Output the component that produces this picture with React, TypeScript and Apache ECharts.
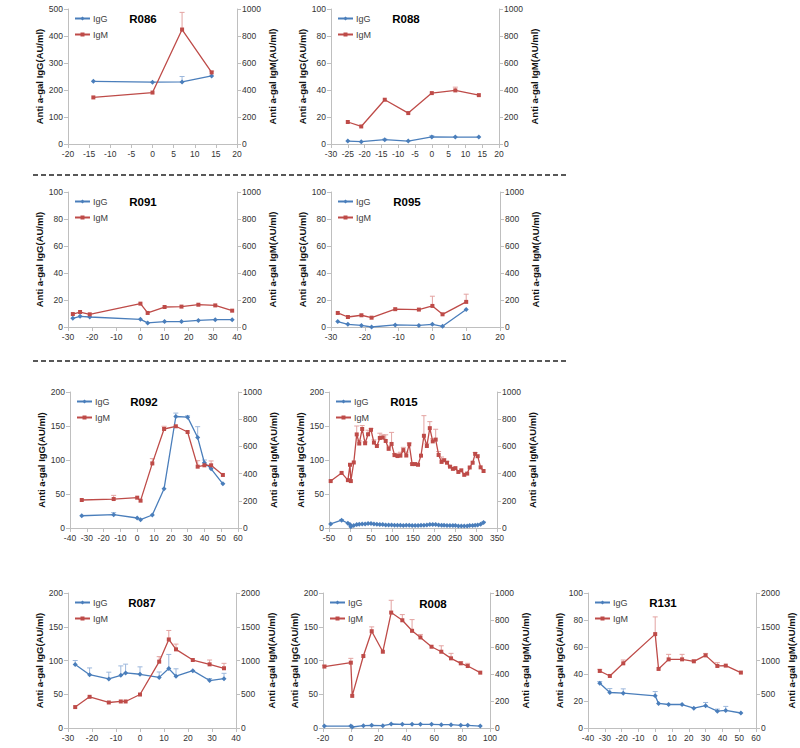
import React, { useEffect, useRef } from "react";
import * as echarts from "echarts";

// ---------- data (days relative to event, antibody levels AU/ml) ----------
const r086Days = [-14, 0, 7, 14];
const r086IgG = [232, 229, 230, 252];
const r086IgGErr = [0, 0, 20, 0];
const r086IgM = [345, 381, 848, 530];
const r086IgMErr = [0, 0, 127, 10];

const r088Days = [-25, -21, -14, -7, 0, 7, 14];
const r088IgG = [2.2, 1.7, 3.2, 2.2, 5.2, 5.1, 5.1];
const r088IgGErr = [0, 0, 0.5, 0, 1, 0, 0];
const r088IgM = [163, 130, 328, 229, 377, 397, 362];
const r088IgMErr = [0, 0, 0, 0, 0, 24, 0];

const r091Days = [-28, -25, -21, 0, 3, 10, 17, 24, 31, 38];
const r091IgG = [6.4, 7.9, 7.4, 5.7, 3.0, 4.0, 4.0, 4.9, 5.4, 5.4];
const r091IgGErr = [0, 0, 0, 0, 0, 0, 0, 0, 0, 0];
const r091IgM = [96, 111, 94, 173, 104, 148, 151, 165, 160, 121];
const r091IgMErr = [0, 0, 0, 0, 0, 0, 0, 0, 0, 0];

const r095Days = [-28, -25, -21, -18, -11, -4, 0, 3, 10];
const r095IgG = [4.0, 2.0, 1.2, 0, 1.5, 1.2, 2.0, 0.5, 12.9];
const r095IgGErr = [0, 0, 0, 0, 0, 0, 0, 0, 0];
const r095IgM = [104, 74, 87, 69, 132, 129, 156, 94, 186];
const r095IgMErr = [0, 0, 0, 0, 0, 0, 72, 0, 57];

const r092Days = [-33, -14, 0, 2, 9, 16, 23, 30, 36, 40, 44, 51];
const r092IgG = [18, 19.6, 14.7, 12.3, 19.1, 57.8, 164, 163, 133, 96, 87, 65];
const r092IgGErr = [0, 3, 0, 0, 0, 0, 5, 2, 16, 4, 0, 0];
const r092IgM = [206, 213, 223, 201, 475, 728, 748, 706, 451, 461, 461, 390];
const r092IgMErr = [0, 27, 0, 0, 35, 20, 0, 0, 44, 0, 32, 0];

const r015Days = [-46, -20, -5, 0, 2, 9, 16, 22, 29, 36, 43, 50, 57, 64, 71, 78, 85, 92, 99, 106, 113, 120, 127, 134, 141, 148, 155, 162, 169, 176, 183, 190, 197, 204, 211, 218, 224, 231, 238, 245, 251, 258, 265, 272, 279, 285, 292, 298, 304, 311, 318];
const r015IgG = [6, 11.5, 7, 5, 2, 3.5, 5, 5.5, 6, 6, 6.5, 6.5, 6, 5.5, 5, 5, 4.5, 4.5, 4.5, 4, 4, 4, 3.5, 4, 4, 3.5, 3.5, 3.5, 4, 4, 4.5, 5, 5, 5, 4.5, 4, 4, 3.5, 3.5, 3.5, 3.5, 3, 3, 3, 3, 3.5, 3.5, 4, 4.5, 5.5, 8];
const r015IgGErr = [0, 1, 0, 0, 0, 0, 0, 0, 0, 0, 0, 0, 0, 0, 0, 0, 0, 0, 0, 0, 0, 0, 0, 0, 0, 0, 0, 0, 0, 0, 0, 0, 0, 0, 0, 0, 0, 0, 0, 0, 0, 0, 0, 0, 0, 0, 0, 0, 0, 0, 1];
const r015IgM = [345, 405, 352, 465, 345, 482, 688, 621, 728, 623, 689, 722, 628, 603, 662, 665, 640, 582, 618, 536, 529, 532, 573, 533, 615, 470, 470, 465, 532, 678, 603, 734, 637, 650, 537, 486, 498, 480, 451, 435, 440, 412, 424, 391, 400, 445, 480, 545, 528, 446, 419];
const r015IgMErr = [0, 0, 0, 0, 0, 0, 62, 20, 25, 10, 30, 10, 20, 10, 35, 20, 45, 20, 85, 10, 20, 25, 20, 25, 10, 5, 0, 0, 0, 148, 20, 48, 20, 76, 25, 36, 10, 10, 5, 0, 0, 0, 0, 0, 0, 0, 0, 10, 0, 0, 0];

const r087Days = [-27, -21, -13, -8, -6, 0, 8, 12, 15, 22, 29, 35];
const r087IgG = [94, 79, 72.7, 78, 81.6, 79.6, 75, 88, 76.7, 85, 70.3, 73];
const r087IgGErr = [6, 10, 10, 14, 13, 11, 8, 21, 11, 0, 3, 8];
const r087IgM = [310, 462, 378, 393, 393, 496, 983, 1312, 1165, 1007, 943, 885];
const r087IgMErr = [0, 0, 0, 0, 0, 0, 74, 133, 78, 0, 64, 73];

const r008Days = [-19, 0, 1, 9, 15, 23, 29, 37, 44, 50, 58, 65, 72, 79, 84, 93];
const r008IgG = [2.9, 2.9, 1.5, 3.4, 3.9, 3.4, 5.9, 5.4, 5.4, 5.4, 5.4, 4.9, 4.9, 3.9, 3.9, 2.9];
const r008IgGErr = [0, 0, 0, 0, 0, 0, 0, 0, 0, 0, 0, 0, 0, 0, 0, 0];
const r008IgM = [455, 484, 238, 533, 717, 565, 855, 798, 720, 671, 602, 565, 516, 479, 459, 410];
const r008IgMErr = [10, 32, 0, 0, 32, 0, 91, 42, 83, 22, 0, 44, 37, 12, 20, 0];

const r131Days = [-33, -27, -19, 0, 2, 8, 16, 23, 30, 37, 42, 51];
const r131IgG = [33.2, 26.3, 25.8, 23.8, 18.2, 17.4, 17.4, 14.7, 16.5, 12.5, 13, 11.1];
const r131IgGErr = [1.2, 2.9, 3.2, 3.2, 0, 0, 0, 0, 2.4, 1.5, 3, 0];
const r131IgM = [845, 771, 958, 1391, 875, 1017, 1017, 988, 1076, 919, 924, 821];
const r131IgMErr = [25, 0, 49, 255, 0, 74, 74, 19, 29, 49, 0, 0];

const seriesNames = ["IgG", "IgM"];
const leftAxisName = "Anti a-gal IgG(AU/ml)";
const rightAxisName = "Anti a-gal IgM(AU/ml)";

// ---------- layout ----------
type Panel = {
  id: string;
  days: number[];
  igg: number[];
  iggErr: number[];
  igm: number[];
  igmErr: number[];
  x: [number, number, number];
  yl: [number, number, number];
  yr: [number, number, number];
  grid: [number, number, number, number];
  title: [number, number];
};

const panels: Panel[] = [
  { id: "R086", days: r086Days, igg: r086IgG, iggErr: r086IgGErr, igm: r086IgM, igmErr: r086IgMErr, x: [-20, 20, 5], yl: [0, 500, 100], yr: [0, 1000, 200], grid: [68, 9, 169, 135], title: [143, 19] },
  { id: "R088", days: r088Days, igg: r088IgG, iggErr: r088IgGErr, igm: r088IgM, igmErr: r088IgMErr, x: [-30, 20, 5], yl: [0, 100, 20], yr: [0, 1000, 200], grid: [331, 9, 168, 135], title: [406, 19] },
  { id: "R091", days: r091Days, igg: r091IgG, iggErr: r091IgGErr, igm: r091IgM, igmErr: r091IgMErr, x: [-30, 40, 10], yl: [0, 100, 20], yr: [0, 1000, 200], grid: [68, 192, 169, 135], title: [143, 202] },
  { id: "R095", days: r095Days, igg: r095IgG, iggErr: r095IgGErr, igm: r095IgM, igmErr: r095IgMErr, x: [-30, 20, 10], yl: [0, 100, 20], yr: [0, 1000, 200], grid: [331, 192, 169, 135], title: [407, 202] },
  { id: "R092", days: r092Days, igg: r092IgG, iggErr: r092IgGErr, igm: r092IgM, igmErr: r092IgMErr, x: [-40, 60, 10], yl: [0, 200, 50], yr: [0, 1000, 200], grid: [70, 392, 168, 136], title: [144, 402] },
  { id: "R015", days: r015Days, igg: r015IgG, iggErr: r015IgGErr, igm: r015IgM, igmErr: r015IgMErr, x: [-50, 350, 50], yl: [0, 200, 50], yr: [0, 1000, 200], grid: [329, 392, 168, 136], title: [404, 402] },
  { id: "R087", days: r087Days, igg: r087IgG, iggErr: r087IgGErr, igm: r087IgM, igmErr: r087IgMErr, x: [-30, 40, 10], yl: [0, 200, 50], yr: [0, 2000, 500], grid: [68, 593, 168, 135], title: [142, 603] },
  { id: "R008", days: r008Days, igg: r008IgG, iggErr: r008IgGErr, igm: r008IgM, igmErr: r008IgMErr, x: [-20, 100, 20], yl: [0, 200, 50], yr: [0, 1000, 200], grid: [323, 593, 167, 135], title: [433, 604] },
  { id: "R131", days: r131Days, igg: r131IgG, iggErr: r131IgGErr, igm: r131IgM, igmErr: r131IgMErr, x: [-40, 60, 10], yl: [0, 100, 20], yr: [0, 2000, 500], grid: [588, 593, 168, 135], title: [663, 603] },
];

const BLUE = "#4a7ebb";
const RED = "#be4b48";
const BLUE_ERR = "#9db8dc";
const RED_ERR = "#e3a3a1";
const AXIS = "#bfbfbf";
const FONT = "Liberation Sans, Arial, sans-serif";

function errSeries(name: string, days: number[], vals: number[], errs: number[], xi: number, yi: number, color: string) {
  return {
    type: "custom",
    name,
    xAxisIndex: xi,
    yAxisIndex: yi,
    silent: true,
    z: 1,
    encode: { x: 0, y: 1 },
    data: days.map((d, k) => [d, vals[k], errs[k]]),
    renderItem: (params: any, api: any) => {
      const x = api.value(0);
      const y = api.value(1);
      const e = api.value(2);
      if (!e) return { type: "group", children: [] };
      const p0 = api.coord([x, y]);
      const p1 = api.coord([x, y + e]);
      return {
        type: "group",
        children: [
          { type: "line", shape: { x1: p0[0], y1: p0[1], x2: p1[0], y2: p1[1] }, style: { stroke: color, lineWidth: 1 } },
          { type: "line", shape: { x1: p1[0] - 2.5, y1: p1[1], x2: p1[0] + 2.5, y2: p1[1] }, style: { stroke: color, lineWidth: 1 } },
        ],
      };
    },
  };
}

const plain = (v: number) => String(v);

function buildOption() {
  const grid: any[] = [];
  const xAxis: any[] = [];
  const yAxis: any[] = [];
  const series: any[] = [];
  const legend: any[] = [];
  const graphic: any[] = [];

  const labelStyle = { fontSize: 8.5, color: "#333", fontFamily: FONT, formatter: plain };
  const nameStyle = { fontSize: 9.5, fontWeight: "bold", color: "#111", fontFamily: FONT };

  panels.forEach((p, i) => {
    grid.push({ left: p.grid[0], top: p.grid[1], width: p.grid[2], height: p.grid[3] });
    xAxis.push({
      gridIndex: i,
      type: "value",
      min: p.x[0],
      max: p.x[1],
      interval: p.x[2],
      axisLine: { show: true, onZero: false, lineStyle: { color: AXIS, width: 1 } },
      axisTick: { show: true, length: 4, lineStyle: { color: AXIS } },
      splitLine: { show: false },
      axisLabel: { ...labelStyle, margin: 5 },
    });
    yAxis.push({
      gridIndex: i,
      type: "value",
      position: "left",
      min: p.yl[0],
      max: p.yl[1],
      interval: p.yl[2],
      name: leftAxisName,
      nameLocation: "middle",
      nameRotate: 90,
      nameGap: 22,
      nameTextStyle: nameStyle,
      axisLine: { show: true, onZero: false, lineStyle: { color: AXIS, width: 1 } },
      axisTick: { show: true, length: 4, lineStyle: { color: AXIS } },
      splitLine: { show: false },
      axisLabel: { ...labelStyle, margin: 5 },
    });
    yAxis.push({
      gridIndex: i,
      type: "value",
      position: "right",
      min: p.yr[0],
      max: p.yr[1],
      interval: p.yr[2],
      name: rightAxisName,
      nameLocation: "middle",
      nameRotate: 90,
      nameGap: 30,
      nameTextStyle: nameStyle,
      axisLine: { show: true, onZero: false, lineStyle: { color: AXIS, width: 1 } },
      axisTick: { show: true, length: 4, lineStyle: { color: AXIS } },
      splitLine: { show: false },
      axisLabel: { ...labelStyle, margin: 5 },
    });

    series.push(errSeries("IgG error", p.days, p.igg, p.iggErr, i, 2 * i, BLUE_ERR));
    series.push(errSeries("IgM error", p.days, p.igm, p.igmErr, i, 2 * i + 1, RED_ERR));
    series.push({
      type: "line",
      name: seriesNames[0],
      xAxisIndex: i,
      yAxisIndex: 2 * i,
      data: p.days.map((d, k) => [d, p.igg[k]]),
      symbol: "diamond",
      symbolSize: 5,
      showAllSymbol: true,
      z: 3,
      lineStyle: { color: BLUE, width: 1.3 },
      itemStyle: { color: BLUE },
    });
    series.push({
      type: "line",
      name: seriesNames[1],
      xAxisIndex: i,
      yAxisIndex: 2 * i + 1,
      data: p.days.map((d, k) => [d, p.igm[k]]),
      symbol: "rect",
      symbolSize: 4,
      showAllSymbol: true,
      z: 3,
      lineStyle: { color: RED, width: 1.3 },
      itemStyle: { color: RED },
    });

    legend.push({
      orient: "vertical",
      left: p.grid[0] + 6,
      top: p.grid[1] + 5,
      padding: 0,
      itemWidth: 15,
      itemHeight: 5,
      itemGap: 7,
      selectedMode: false,
      data: seriesNames,
      textStyle: { fontSize: 9, color: "#404040", fontFamily: FONT, padding: [0, 0, 0, -2] },
    });

    graphic.push({
      type: "text",
      x: p.title[0],
      y: p.title[1],
      style: {
        text: p.id,
        font: `bold 11.5px ${FONT}`,
        fill: "#000",
        textAlign: "center",
        textVerticalAlign: "middle",
        align: "center",
        verticalAlign: "middle",
      },
    });
  });

  [175, 361].forEach((yy) => {
    graphic.push({
      type: "line",
      shape: { x1: 33, y1: yy, x2: 567, y2: yy },
      style: { stroke: "#222", lineWidth: 1.5, lineDash: [5, 3] },
    });
  });

  return { animation: false, backgroundColor: "#fff", grid, xAxis, yAxis, series, legend, graphic };
}

export default function App() {
  const ref = useRef<HTMLDivElement>(null);
  useEffect(() => {
    if (!ref.current) return;
    const chart = echarts.init(ref.current, undefined, { renderer: "svg" });
    chart.setOption(buildOption() as any);
    return () => chart.dispose();
  }, []);
  return <div ref={ref} style={{ position: "absolute", left: 0, top: 0, width: 800, height: 748 }} />;
}
